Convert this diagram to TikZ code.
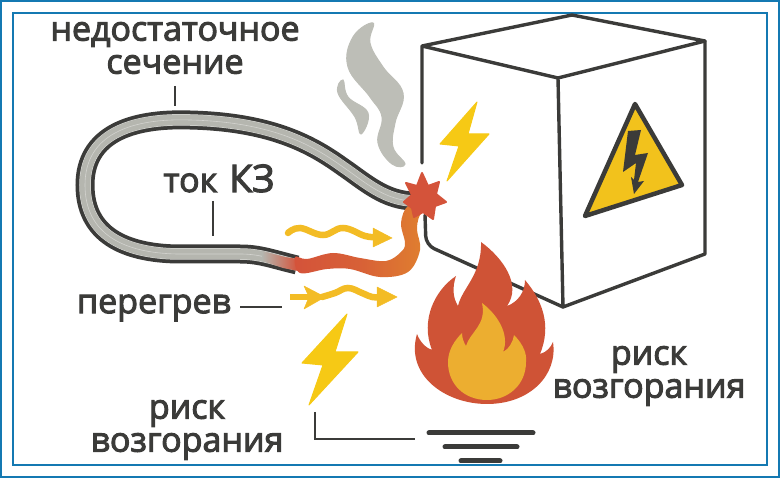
\documentclass[tikz,border=0pt]{standalone}
\usepackage{fontspec}
\setmainfont{Open Sans}[FakeBold=3]
\usetikzlibrary{arrows.meta}
\definecolor{framecol}{HTML}{1479B2}
\definecolor{inkcol}{HTML}{3B3B39}
\definecolor{wiregrey}{HTML}{B5B6AF}
\definecolor{smokecol}{HTML}{BDBEB7}
\definecolor{boltcol}{HTML}{F6C915}
\definecolor{signcol}{HTML}{F2C21C}
\definecolor{heatcol}{HTML}{F3BC25}
\definecolor{firecol}{HTML}{CF5336}
\definecolor{coalcol}{HTML}{ECAE30}
\definecolor{sparkcol}{HTML}{D4533A}
\definecolor{hotcol}{HTML}{E0802F}
\tikzset{
  frameline/.style={draw=framecol,line width=2pt},
  boxline/.style={draw=inkcol,line width=3.4pt,line cap=round,line join=round},
  leader/.style={draw=inkcol,line width=2pt},
  groundbar/.style={draw=inkcol,line width=5pt,line cap=round},
  labeltext/.style={text=inkcol,align=center,inner sep=0pt,font=\fontsize{34}{33}\selectfont},
  zigzag/.style={fill=boltcol,draw=boltcol,line width=1pt,line join=round},
  heatline/.style={draw=heatcol,line width=6.5pt,line cap=round},
  heattip/.style={fill=heatcol,draw=heatcol,line width=.5pt,line join=round},
}
\newcommand{\wirepath}{(415,201) .. controls (385,201) and (365,182) .. (343,167)
  .. controls (315,147) and (275,122) .. (190,120)
  .. controls (130,118) and (85,135) .. (85,185)
  .. controls (85,235) and (125,253) .. (177,254)
  -- (240,254) .. controls (260,254) and (272,259) .. (297,265)}
\newcommand{\waveone}{plot[smooth,tension=.7] coordinates {(288,233) (300,228) (323,235) (343,228) (365,236) (376,237)}}
\newcommand{\wavetwo}{plot[smooth,tension=.7] coordinates {(322,297) (335,293) (348,288) (362,293) (372,297) (382,297)}}
\begin{document}
\begin{tikzpicture}[x=1pt,y=-1pt]
\useasboundingbox (0,0) rectangle (780,478);

\path[frameline] (1,1) rectangle (779,477);
\path[frameline] (13,13.5) rectangle (767,465);

% cabinet
\coordinate (backleft) at (422,46);
\coordinate (backtop) at (572,15);
\coordinate (backright) at (705,41);
\coordinate (fronttop) at (558,78);
\coordinate (frontbottom) at (563,307);
\coordinate (rightbottom) at (705,254);
\coordinate (gapup) at (422,163);
\coordinate (gapdown) at (425,215);
\path[boxline] (gapup) -- (backleft) -- (backtop) -- (backright) -- (fronttop) -- (backleft);
\path[boxline] (backright) -- (rightbottom) -- (frontbottom) -- (fronttop);
\path[boxline,rounded corners=9pt] (gapdown) -- (426,245) -- (frontbottom);

% warning sign
\path[fill=signcol,draw=inkcol,line width=4.5pt,line join=round] (635,104) -- (682,185) -- (585,216) -- cycle;
\path[fill=inkcol] (628,131) -- (641,130) -- (635,155) -- (648,153) -- (638,182) -- (644,181) -- (634,194) -- (631,177) -- (634,180) -- (636,163) -- (623,172) -- cycle;

% smoke
\path[fill=smokecol,draw=smokecol,line width=1pt] plot[smooth cycle,tension=.7] coordinates {(373,23) (370,43) (383,67) (403,93) (395,123) (393,147) (405,164) (392,164) (378,143) (382,117) (370,97) (348,67) (353,37)};
\path[fill=smokecol,draw=smokecol,line width=1pt] plot[smooth cycle,tension=.7] coordinates {(343,80) (348,97) (368,113) (361,134) (355,117) (338,93)};

% wire
\path[draw=inkcol,line width=19pt] \wirepath;
\path[draw=white!50!wiregrey,line width=11.5pt] \wirepath;
\path[draw=wiregrey,line width=10.5pt] \wirepath;
\path[draw=white!40!wiregrey,line width=.6pt] \wirepath;
\path[left color=wiregrey,right color=sparkcol] (262,251) -- (285,257) -- (298,259) -- (298,271) -- (283,268) -- (262,261) -- cycle;

% hot part of the wire
\path[left color=sparkcol,right color=hotcol,middle color=sparkcol!70!hotcol] plot[smooth cycle,tension=.6] coordinates {(295,257) (307,259) (333,253) (360,258) (386,261) (401,252) (405,243) (401,223) (408,206) (424,207) (419,217) (417,230) (420,250) (408,272) (380,277) (350,269) (327,269) (300,273)};

% spark
\path[fill=sparkcol,draw=sparkcol,line width=2pt,line join=round] (422,173) -- (428,186) -- (439,182) -- (436,194) -- (446,202) -- (435,206) -- (433,219) -- (423,212) -- (414,217) -- (412,208) -- (404,202) -- (412,195) -- (406,183) -- (417,186) -- cycle;

\path[zigzag] (477,102) -- (468,134) -- (489,134) -- (447,181) -- (459,146) -- (440,144) -- cycle;
\path[zigzag] (347,314) -- (335,352) -- (358,352) -- (309,405) -- (323,365) -- (302,363) -- cycle;

% heat
\coordinate (waveoneend) at (392,238);
\coordinate (waveonebase) at (373,238);
\path[heatline] \waveone;
\path[heattip] (waveoneend) -- (373,228) -- (373,247) -- cycle;
\coordinate (wavetwostart) at (290,297);
\coordinate (wavetwomid) at (325,297);
\path[heatline,line cap=butt] (wavetwostart) -- (312,297);
\path[heattip] (wavetwomid) -- (304,286) -- (309,297) -- (304,309) -- cycle;
\path[heatline] \wavetwo;
\path[heattip] (397,297) -- (377,287) -- (377,307) -- cycle;

% fire
\path[fill=firecol] (481,242) .. controls (503,258) and (522,285) .. (507,306)
  .. controls (518,302) and (525,292) .. (525,280)
  .. controls (542,300) and (552,325) .. (540,354)
  .. controls (547,352) and (551,347) .. (553,342)
  .. controls (558,375) and (530,404) .. (487,404)
  .. controls (445,404) and (405,375) .. (417,334)
  .. controls (420,342) and (426,348) .. (432,350)
  .. controls (420,320) and (435,290) .. (456,276)
  .. controls (452,288) and (453,298) .. (458,306)
  .. controls (462,288) and (482,275) .. (481,242) -- cycle;
\path[fill=coalcol] (482,303) .. controls (498,315) and (510,335) .. (503,352)
  .. controls (509,349) and (513,342) .. (514,335)
  .. controls (524,345) and (527,355) .. (526,362)
  .. controls (526,385) and (508,400) .. (487,400)
  .. controls (465,400) and (448,385) .. (448,362)
  .. controls (448,350) and (455,340) .. (462,333)
  .. controls (462,338) and (464,343) .. (466,346)
  .. controls (470,332) and (487,325) .. (482,303) -- cycle;

% ground
\coordinate (groundup) at (315,412);
\coordinate (groundin) at (415,439);
\path[leader] (groundup) |- (groundin);
\path[groundbar] (429,433) -- (533,433);
\path[groundbar] (445,447) -- (517,447);
\path[groundbar] (461,461) -- (500,461);

% labels
\node[labeltext] (thin) at (175,48) {недостаточное\\сечение};
\node[labeltext,anchor=base] (fault) at (219,192) {ток\hspace{3pt} {\fontsize{38}{33}\selectfont КЗ}};
\node[labeltext] (heating) at (154,308) {перегрев};
\node[labeltext] (riskleft) at (187,430) {риск\\возгорания};
\node[labeltext] (riskright) at (649,376) {риск\\возгорания};

\coordinate (thinup) at (175,86);
\coordinate (thinwire) at (175,106);
\coordinate (faultup) at (213,201);
\coordinate (faultwire) at (213,236);
\coordinate (heatlabel) at (240,307);
\coordinate (heatarrow) at (282,307);
\path[leader] (thinup) -- (thinwire);
\path[leader] (faultup) -- (faultwire);
\path[leader] (heatlabel) -- (heatarrow);
\end{tikzpicture}
\end{document}
